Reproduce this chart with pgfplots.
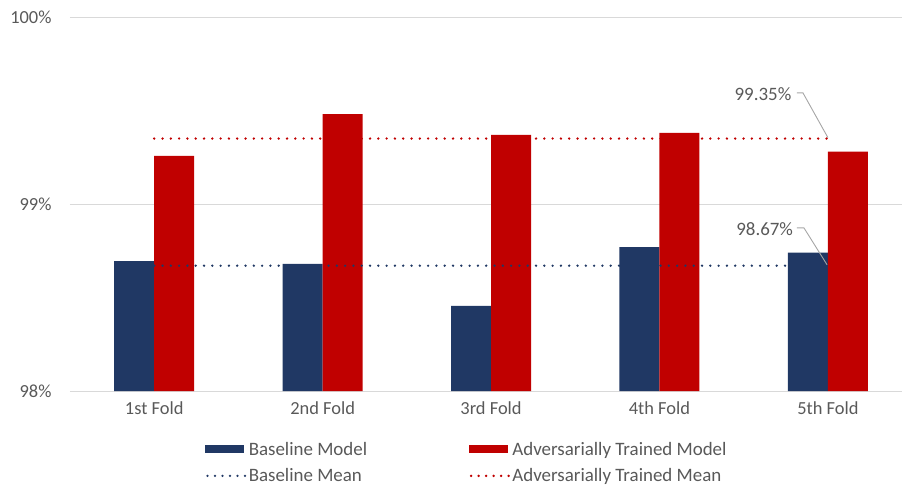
\documentclass[border=0pt]{standalone}
\usepackage{pgfplots}
\pgfplotsset{compat=1.18}
\usepackage{fontspec}
\setmainfont{Carlito}
\definecolor{navy}{HTML}{203864}
\definecolor{darkred}{HTML}{C00000}
\definecolor{txtgray}{HTML}{595959}
\definecolor{gridgray}{HTML}{D9D9D9}
\begin{document}
\begin{tikzpicture}
\path[use as bounding box] (-70bp,-94bp) rectangle (832bp,391bp);
\begin{axis}[
  at={(0,0)}, anchor=south west,
  scale only axis, width=832bp, height=374bp,
  xmin=-0.5, xmax=4.44, ymin=98, ymax=100,
  axis line style={draw=none},
  xtick={0,1,2,3,4},
  xticklabels={1st Fold,2nd Fold,3rd Fold,4th Fold,5th Fold},
  ytick={98,99,100},
  yticklabels={98\%,99\%,100\%},
  major tick length=0pt,
  ymajorgrids, grid style={gridgray, line width=0.8bp},
  xticklabel style={font=\fontsize{18.5}{20}\selectfont, text=txtgray, yshift=-7bp},
  yticklabel style={font=\fontsize{18.5}{20}\selectfont, text=txtgray, xshift=-15bp},
  clip=false,
  legend columns=2,
  legend style={draw=none, at={(0.159,-0.125)}, anchor=north west,
    font=\fontsize{19}{21}\selectfont, text=txtgray,
    row sep=8bp,
    /tikz/every even column/.append style={column sep=100bp}},
  legend cell align=left,
]
\addplot[ybar, bar width=40bp, bar shift=-20bp, fill=navy, draw=none,
  legend image code/.code={\fill[navy] (0bp,-4bp) rectangle (39bp,4bp);}]
  coordinates {(0,98.695) (1,98.68) (2,98.455) (3,98.77) (4,98.74)};
\addlegendentry{Baseline Model}
\addplot[ybar, bar width=40bp, bar shift=20bp, fill=darkred, draw=none,
  legend image code/.code={\fill[darkred] (0bp,-4bp) rectangle (39bp,4bp);}]
  coordinates {(0,99.257) (1,99.48) (2,99.37) (3,99.38) (4,99.28)};
\addlegendentry{Adversarially Trained Model}
\addplot[sharp plot, navy, line width=2.6bp, line cap=round, dash pattern=on 0bp off 8.3bp,
  legend image code/.code={\draw[navy, line width=2.6bp, line cap=round, dash pattern=on 0bp off 7.5bp] (2bp,0) -- (40bp,0);}]
  coordinates {(0,98.67) (4,98.67)};
\addlegendentry{Baseline Mean}
\addplot[sharp plot, darkred, line width=2.6bp, line cap=round, dash pattern=on 0bp off 8.3bp,
  legend image code/.code={\draw[darkred, line width=2.6bp, line cap=round, dash pattern=on 0bp off 7.5bp] (2bp,0) -- (40bp,0);}]
  coordinates {(0,99.35) (4,99.35)};
\addlegendentry{Adversarially Trained Mean}
\draw[gray!70, line width=0.9bp] (axis cs:3.816,99.594) -- (axis cs:3.852,99.594) -- (axis cs:4,99.355);
\draw[gray!70, line width=0.9bp] (axis cs:3.816,98.872) -- (axis cs:3.858,98.872) -- (axis cs:3.995,98.675);
\node[anchor=east, text=txtgray, font=\fontsize{19}{21}\selectfont, inner sep=1bp] at (axis cs:3.79,99.585) {99.35\%};
\node[anchor=east, text=txtgray, font=\fontsize{19}{21}\selectfont, inner sep=1bp] at (axis cs:3.80,98.865) {98.67\%};
\end{axis}
\end{tikzpicture}
\end{document}
